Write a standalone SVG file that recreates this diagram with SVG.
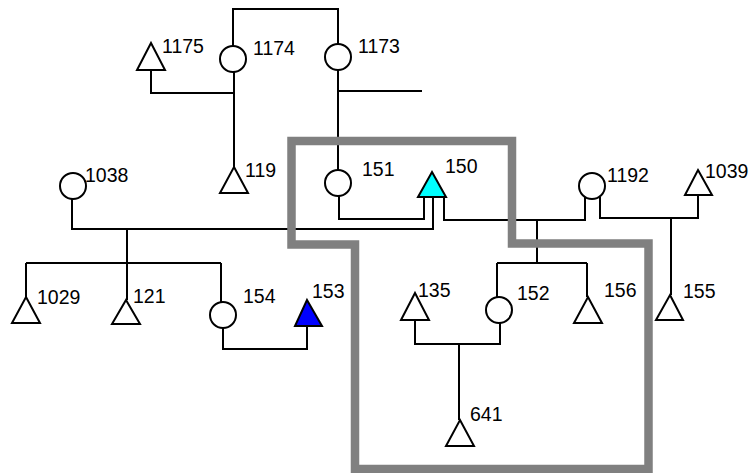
<svg xmlns="http://www.w3.org/2000/svg" width="755" height="473" viewBox="0 0 755 473">
<style>
.c{fill:#fff;stroke:#000;stroke-width:2}
.t{fill:#fff;stroke:#000;stroke-width:2;stroke-linejoin:miter}
.l{font-family:"Liberation Sans",Arial,sans-serif;font-size:19.5px;fill:#000}
#edges path{fill:none;stroke:#000;stroke-width:2}
.box{fill:none;stroke:#808080;stroke-width:8.5;stroke-linejoin:miter}
</style>
<rect width="755" height="473" fill="#fff"/>
<g id="edges">
<path d="M233,46 V9 H338 V44"/>
<path d="M234,72 V167"/>
<path d="M151,70 V93 H234"/>
<path d="M338,70 V170"/>
<path d="M338,91 H422"/>
<path d="M339,196 V219 H424 V197"/>
<path d="M72,199 V229 H433 V197"/>
<path d="M127,229 V263"/>
<path d="M26,263 H221"/>
<path d="M26,263 V297"/>
<path d="M127,263 V300"/>
<path d="M221,263 V302"/>
<path d="M223,328 V349 H307 V326"/>
<path d="M444,197 V220 H585 V197"/>
<path d="M537,220 V263"/>
<path d="M497,263 H587"/>
<path d="M497,263 V297"/>
<path d="M587,263 V297"/>
<path d="M600,197 V218 H698 V195"/>
<path d="M671,218 V295"/>
<path d="M415,320 V344 H500 V323"/>
<path d="M459,344 V420"/>
</g>
<g id="n1175"><polygon class="t" points="151,43 165,70 137,70"/><text class="l" x="162" y="53">1175</text></g>
<g id="n1174"><circle class="c" cx="233" cy="59" r="13"/><text class="l" x="253" y="55">1174</text></g>
<g id="n1173"><circle class="c" cx="338" cy="57" r="13"/><text class="l" x="358" y="53">1173</text></g>
<g id="n119"><polygon class="t" points="234,167 248,193 220,193"/><text class="l" x="245" y="177">119</text></g>
<g id="n151"><circle class="c" cx="338" cy="183" r="13"/><text class="l" x="362" y="176">151</text></g>
<g id="n150"><polygon class="t" style="fill:#00ffff" points="432,172 446,197 418,197"/><text class="l" x="445" y="173">150</text></g>
<g id="n1038"><circle class="c" cx="73" cy="186" r="13"/><text class="l" x="85" y="182">1038</text></g>
<g id="n1192"><circle class="c" cx="592" cy="186" r="13"/><text class="l" x="607" y="182">1192</text></g>
<g id="n1039"><polygon class="t" points="698,170 712,195 685,195"/><text class="l" x="705" y="178">1039</text></g>
<g id="n1029"><polygon class="t" points="26,297 40,323 12,323"/><text class="l" x="37" y="304">1029</text></g>
<g id="n121"><polygon class="t" points="126,300 140,324 112,324"/><text class="l" x="133" y="303">121</text></g>
<g id="n154"><circle class="c" cx="223" cy="315" r="13"/><text class="l" x="243" y="303">154</text></g>
<g id="n153"><polygon class="t" style="fill:#0000ff" points="307,300 322,326 295,326"/><text class="l" x="312" y="298">153</text></g>
<g id="n135"><polygon class="t" points="415,293 429,320 401,320"/><text class="l" x="418" y="297">135</text></g>
<g id="n152"><circle class="c" cx="499" cy="310" r="13"/><text class="l" x="517" y="300">152</text></g>
<g id="n156"><polygon class="t" points="588,297 602,323 574,323"/><text class="l" x="604" y="297">156</text></g>
<g id="n155"><polygon class="t" points="670,295 683,320 656,320"/><text class="l" x="683" y="298">155</text></g>
<g id="n641"><polygon class="t" points="460,420 474,446 446,446"/><text class="l" x="470" y="421">641</text></g>
<polygon class="box" points="291.5,141 512,141 512,243.5 648.5,243.5 648.5,469 355,469 355,244.5 291.5,244.5"/>
</svg>
